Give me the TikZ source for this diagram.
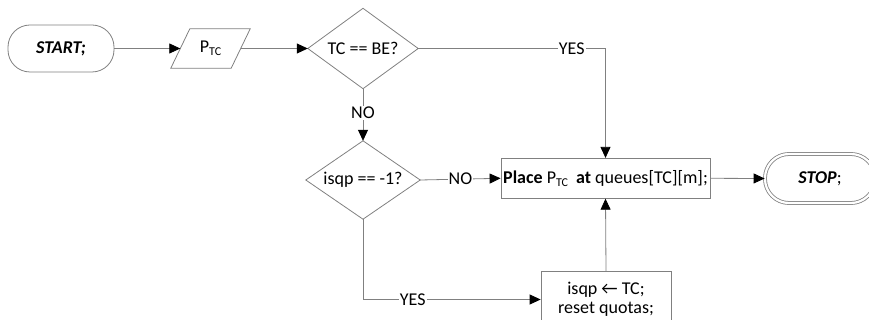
\documentclass[tikz,border=0pt]{standalone}
\usepackage{fontspec}
\setmainfont{Carlito}
\usetikzlibrary{arrows.meta}

% small lowered subscript text
\newcommand{\lowsub}[1]{\raisebox{-0.35ex}{\fontsize{12}{12}\selectfont #1}}

\tikzset{
  line/.style={draw=black!50, line width=0.8pt},
  flow/.style={line, -{Triangle[color=black, length=11pt, width=10pt]}},
  frame/.style={rectangle, inner sep=0pt, align=center},
  boxed/.style={frame, draw=black!50, line width=0.8pt},
  terminal/.style={frame, draw=black!50, line width=0.8pt, rounded corners=22pt},
  lbl/.style={fill=white, inner sep=1pt, font=\fontsize{18}{20}\selectfont}
}

\begin{document}
\begin{tikzpicture}[x=1pt, y=-1pt, font=\fontsize{18}{22}\selectfont]
\useasboundingbox (0,0) rectangle (869,320);

% terminals
\node[terminal, minimum width=106pt, minimum height=47pt] (start) at (61,48.5) {\textbf{\textit{START;}}};
\node[terminal, minimum width=110pt, minimum height=49pt, rounded corners=24pt,
      double=white, double distance=2.2pt] (stop) at (820,178.5) {\textbf{\textit{STOP}};};

% input parallelogram
\node[frame, minimum width=60pt, minimum height=39pt] (ptc) at (210.5,48.5) {P\lowsub{TC}};
\draw[line] ([xshift=9.5pt]ptc.north west) -- ([xshift=9.5pt]ptc.north east)
  -- ([xshift=-9.5pt]ptc.south east) -- ([xshift=-9.5pt]ptc.south west) -- cycle;

% decisions
\node[frame, minimum width=110pt, minimum height=80pt] (d1) at (363,48.5) {TC == BE?};
\draw[line] (d1.north) -- (d1.east) -- (d1.south) -- (d1.west) -- cycle;
\node[frame, minimum width=114pt, minimum height=78pt] (d2) at (363,180) {isqp == -1?};
\draw[line] (d2.north) -- (d2.east) -- (d2.south) -- (d2.west) -- cycle;

% process boxes
\node[boxed, minimum width=209pt, minimum height=40pt] (place) at (605.5,178.3)
  {\textbf{Place} P\lowsub{TC}\ \ \textbf{at} queues[TC][m];};
\node[boxed, minimum width=130pt, minimum height=56pt] (reset) at (606,299.5)
  {isqp ← TC;\\[-3pt]reset quotas;};

% connectors
\draw[flow] (start.east) -- (ptc.west);
\draw[flow] (ptc.east) -- (d1.west);
\draw[flow] (d1.east) -| node[lbl, pos=0.41] {YES} (place.north);
\draw[flow] (d1.south) -- node[lbl, pos=0.47] {NO} (d2.north);
\draw[flow] (d2.east) -- node[lbl, midway] {NO} (place.west);
\draw[flow] (d2.south) |- node[lbl, pos=0.64] {YES} (reset.west);
\draw[flow] (reset.north) -- (place.south);
\draw[flow] (place.east) -- (stop.west);
\end{tikzpicture}
\end{document}
